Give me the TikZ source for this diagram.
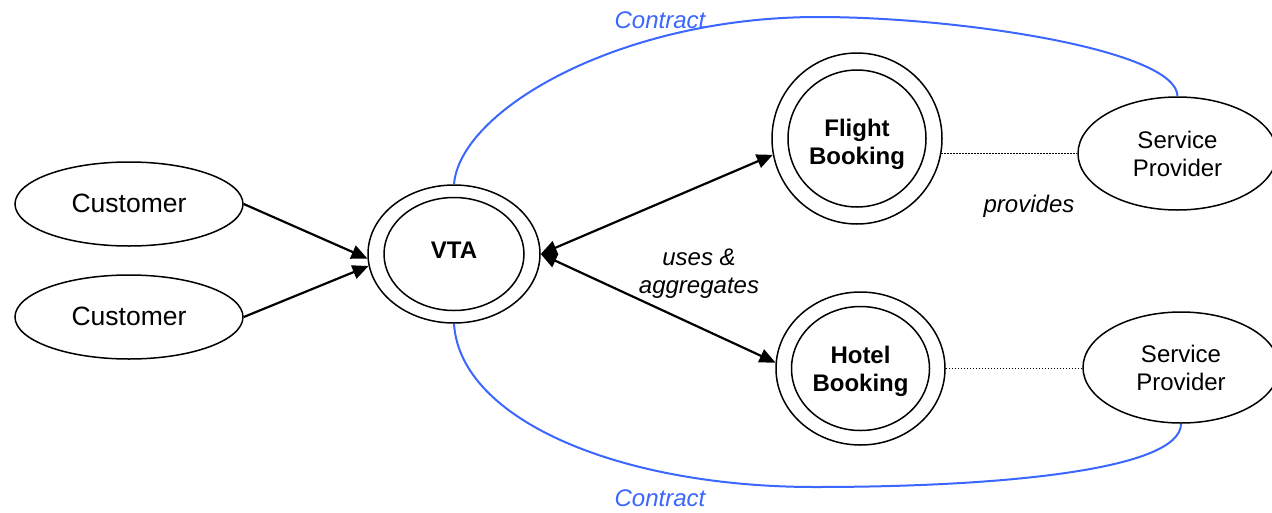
\documentclass[tikz,border=0pt]{standalone}
\usepackage{fontspec}
\setmainfont{Liberation Sans}
\usetikzlibrary{shapes.geometric,arrows.meta}
\definecolor{contractblue}{RGB}{59,102,255}
\begin{document}
\begin{tikzpicture}[x=1pt,y=-1pt,
  oval/.style={draw,ellipse,line width=1.5pt,inner sep=0pt},
  actor/.style={oval,minimum width=228pt,minimum height=84pt,font=\fontsize{26.5}{30}\selectfont},
  provider/.style={oval,align=center,font=\fontsize{24}{28}\selectfont},
  svctext/.style={align=center,inner sep=0pt,font=\fontsize{24}{28}\selectfont\bfseries},
  link/.style={line width=2.2pt,-{Triangle[length=16pt,width=14pt]}},
  biline/.style={line width=2.2pt,{Triangle[length=16pt,width=14pt]}-{Triangle[length=16pt,width=14pt]}},
  tie/.style={line width=1.5pt,dash pattern=on 1.5pt off 1.5pt},
  contract/.style={draw=contractblue,line width=2pt},
  note/.style={align=center,inner sep=0pt,font=\fontsize{24}{28}\selectfont\itshape}
]
\useasboundingbox (0,0) rectangle (1272,512);

% customers
\node[actor] (cust1) at (129,204) {\raisebox{2pt}{Customer}};
\node[actor] (cust2) at (129,317) {\raisebox{2.5pt}{Customer}};

% the travel agency and the two booking services (double outlines)
\node[oval,minimum width=172pt,minimum height=138pt] (vta) at (454,254) {};
\node[oval,minimum width=140pt,minimum height=113pt] (vtain) at (454,254) {};
\node[svctext,yshift=4pt] (vtatext) at (vtain.center) {VTA};
\node[oval,minimum width=170pt,minimum height=171pt] (flight) at (857,138.5) {};
\node[oval,minimum width=138pt,minimum height=137pt] (flightin) at (857,138.5) {};
\node[svctext,yshift=-6pt] (flighttext) at (flightin.center) {Flight\\Booking};
\node[oval,minimum width=169pt,minimum height=153pt] (hotel) at (860.5,368.5) {};
\node[oval,minimum width=138pt,minimum height=124pt] (hotelin) at (860.5,368.5) {};
\node[svctext,yshift=-3pt] (hoteltext) at (hotelin.center) {Hotel\\Booking};

% providers
\node[provider,minimum width=199pt,minimum height=113pt] (sp1) at (1177.5,153.5) {Service\\Provider};
\node[provider,minimum width=196pt,minimum height=111pt] (sp2) at (1181,367.5) {Service\\Provider};

% customer requests
\draw[link] (cust1.east) -- (vta.183);
\draw[link] (cust2.east) -- (vta.188);

% uses & aggregates
\draw[biline] (vta.east) -- (flight.191);
\draw[biline] (vta.east) -- (hotel.176);

% provides
\draw[tie] (flight.-10) -- (flight.-10 -| sp1.west);
\draw[tie] (hotel.east) -- (hotel.east -| sp2.west);

% contracts
\draw[contract] (vta.north) .. controls (460,110) and (620,17) .. (818,17)
  .. controls (960,17) and (1177,50) .. (sp1.north);
\draw[contract] (vta.south) .. controls (460,420) and (620,487) .. (815,487)
  .. controls (1000,487) and (1181,470) .. (sp2.south);

% labels
\node[note,text=contractblue] (ctop) at (660,20) {Contract};
\node[note,text=contractblue] (cbot) at (660,498) {Contract};
\node[note] (uses) at (699,274) {uses \&\\aggregates};
\node[note] (prov) at (1029,206) {provides};
\end{tikzpicture}
\end{document}
